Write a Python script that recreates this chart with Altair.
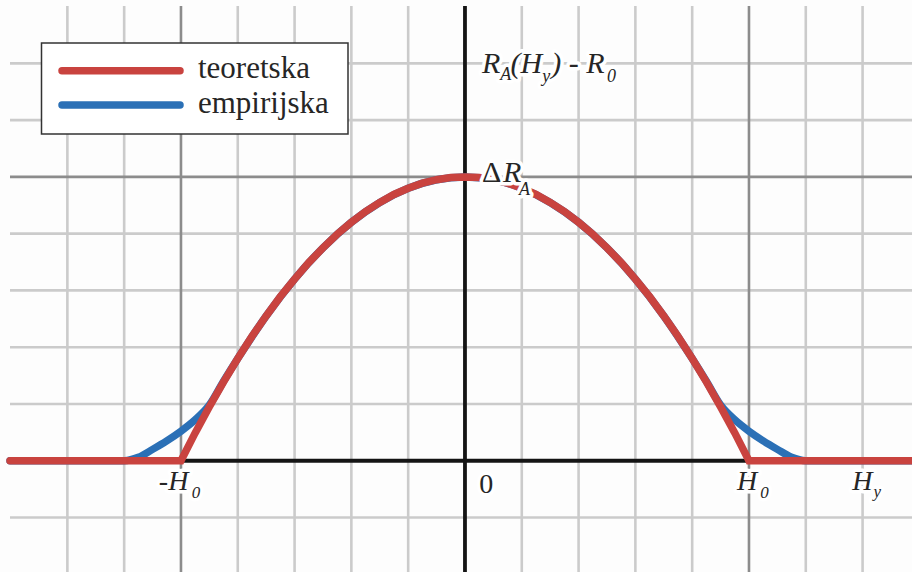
import altair as alt
import pandas as pd

# Theoretical (parabolic cap, flat outside +-H0) and empirical (smoothed) curves
red_x = [-8.01, -5.0, -4.75, -4.5, -4.25, -4.0, -3.75, -3.5, -3.25, -3.0, -2.75, -2.5,
         -2.25, -2.0, -1.75, -1.5, -1.25, -1.0, -0.75, -0.5, -0.25, 0.0, 0.25, 0.5,
         0.75, 1.0, 1.25, 1.5, 1.75, 2.0, 2.25, 2.5, 2.75, 3.0, 3.25, 3.5, 3.75, 4.0,
         4.25, 4.5, 4.75, 5.0, 7.87]
red_y = [0, 0, 0.49, 0.95, 1.39, 1.8, 2.19, 2.55, 2.89, 3.2, 3.49, 3.75,
         3.99, 4.2, 4.39, 4.55, 4.69, 4.8, 4.89, 4.95, 4.99, 5.0, 4.99, 4.95,
         4.89, 4.8, 4.69, 4.55, 4.39, 4.2, 3.99, 3.75, 3.49, 3.2, 2.89, 2.55, 2.19, 1.8,
         1.39, 0.95, 0.49, 0, 0]

blue_x = [-8.01, -6.0, -5.75, -5.5, -5.25, -5.0, -4.75, -4.5, -4.25, -4.0, -3.5, -3.0,
          -2.5, -2.0, -1.5, -1.0, -0.5, 0.0, 0.5, 1.0, 1.5, 2.0, 2.5, 3.0, 3.5, 4.0,
          4.25, 4.5, 4.75, 5.0, 5.25, 5.5, 5.75, 6.0, 7.87]
blue_y = [0, 0, 0.06, 0.2, 0.35, 0.52, 0.72, 0.98, 1.4, 1.8, 2.55, 3.2,
          3.75, 4.2, 4.55, 4.8, 4.95, 5.0, 4.95, 4.8, 4.55, 4.2, 3.75, 3.2, 2.55, 1.8,
          1.4, 0.98, 0.72, 0.52, 0.35, 0.2, 0.06, 0, 0]

# Grid positions (unit = minor grid step, H0 = 5 units, dR_A = 5 units)
minor_x = [-7, -6, -4, -3, -2, -1, 1, 2, 3, 4, 6, 7]
minor_y = [-1, 1, 2, 3, 4, 6, 7]
major_x = [-5, 5]
major_y = [5]

series_names = ["teoretska", "empirijska"]

RED = "#c9433f"
BLUE = "#2b70b6"
SERIF = "'Liberation Serif', 'Times New Roman', 'DejaVu Serif', serif"
LW = 7.5

xs = alt.Scale(domain=[-8.01, 7.87], nice=False, zero=False)
ys = alt.Scale(domain=[-1.96, 8.01], nice=False, zero=False)

def X(field="x"):
    return alt.X(f"{field}:Q", scale=xs, axis=None)

def Y(field="y"):
    return alt.Y(f"{field}:Q", scale=ys, axis=None)

grid_minor_v = alt.Chart(pd.DataFrame({"x": minor_x})).mark_rule(
    color="#cbcbcb", strokeWidth=2.6).encode(x=X())
grid_minor_h = alt.Chart(pd.DataFrame({"y": minor_y})).mark_rule(
    color="#cbcbcb", strokeWidth=2.6).encode(y=Y())
grid_major_v = alt.Chart(pd.DataFrame({"x": major_x})).mark_rule(
    color="#8c8c8c", strokeWidth=2.6).encode(x=X())
grid_major_h = alt.Chart(pd.DataFrame({"y": major_y})).mark_rule(
    color="#8c8c8c", strokeWidth=2.6).encode(y=Y())

axis_v = alt.Chart(pd.DataFrame({"x": [0]})).mark_rule(
    color="#141414", strokeWidth=3.8).encode(x=X())
axis_h = alt.Chart(pd.DataFrame({"y": [0]})).mark_rule(
    color="#141414", strokeWidth=4).encode(y=Y())

blue_line = alt.Chart(pd.DataFrame({"x": blue_x, "y": blue_y})).mark_line(
    color=BLUE, strokeWidth=LW, strokeCap="round", interpolate="monotone"
).encode(x=X(), y=Y(), order="x:Q")
red_line = alt.Chart(pd.DataFrame({"x": red_x, "y": red_y})).mark_line(
    color=RED, strokeWidth=LW, strokeCap="round"
).encode(x=X(), y=Y(), order="x:Q")

# Math labels, split into main glyphs and subscripts
labels = pd.DataFrame([
    # R_A(H_y) - R_0
    {"t": "R", "x": 0.30, "y": 6.83, "s": 30, "it": True},
    {"t": "A", "x": 0.62, "y": 6.70, "s": 18, "it": True},
    {"t": "(H", "x": 0.80, "y": 6.83, "s": 30, "it": True},
    {"t": "y", "x": 1.36, "y": 6.67, "s": 18, "it": True},
    {"t": ") - R", "x": 1.52, "y": 6.83, "s": 30, "it": True},
    {"t": "0", "x": 2.50, "y": 6.67, "s": 18, "it": True},
    # Delta R_A
    {"t": "\u0394", "x": 0.30, "y": 4.91, "s": 30, "it": False},
    {"t": "R", "x": 0.67, "y": 4.91, "s": 30, "it": True},
    {"t": "A", "x": 0.95, "y": 4.68, "s": 18, "it": True},
    # -H_0
    {"t": "-H", "x": -5.39, "y": -0.52, "s": 28, "it": True},
    {"t": "0", "x": -4.81, "y": -0.66, "s": 17, "it": True},
    # origin
    {"t": "0", "x": 0.25, "y": -0.57, "s": 28, "it": False},
    # H_0
    {"t": "H", "x": 4.79, "y": -0.52, "s": 28, "it": True},
    {"t": "0", "x": 5.20, "y": -0.66, "s": 17, "it": True},
    # H_y
    {"t": "H", "x": 6.82, "y": -0.52, "s": 28, "it": True},
    {"t": "y", "x": 7.19, "y": -0.64, "s": 17, "it": True},
])

def label_layer(df, italic, halo):
    kw = dict(align="left", baseline="alphabetic", font=SERIF,
              fontStyle="italic" if italic else "normal")
    if halo:
        kw.update(color="white", stroke="white", strokeWidth=7, strokeJoin="round")
    else:
        kw.update(color="#262626")
    return alt.Chart(df).mark_text(**kw).encode(
        x=X(), y=Y(), text="t:N", size=alt.Size("s:Q", scale=None, legend=None))

lab_it = labels[labels["it"]]
lab_up = labels[~labels["it"]]
text_layers = [
    label_layer(lab_it, True, True), label_layer(lab_up, False, True),
    label_layer(lab_it, True, False), label_layer(lab_up, False, False),
]

# Legend box with two line swatches
legend_box = alt.Chart(pd.DataFrame({"k": [0]})).mark_rect(
    fill="white", stroke="#333333", strokeWidth=1.5
).encode(x=alt.value(31.5), x2=alt.value(338), y=alt.value(37), y2=alt.value(128))
legend_red = alt.Chart(pd.DataFrame({"k": [0]})).mark_rule(
    color=RED, strokeWidth=LW, strokeCap="round"
).encode(x=alt.value(52), x2=alt.value(170), y=alt.value(64.7))
legend_blue = alt.Chart(pd.DataFrame({"k": [0]})).mark_rule(
    color=BLUE, strokeWidth=LW, strokeCap="round"
).encode(x=alt.value(52), x2=alt.value(170), y=alt.value(99))
legend_t1 = alt.Chart(pd.DataFrame({"t": [series_names[0]]})).mark_text(
    align="left", baseline="alphabetic", font=SERIF, fontSize=31, color="#262626"
).encode(x=alt.value(188), y=alt.value(72), text="t:N")
legend_t2 = alt.Chart(pd.DataFrame({"t": [series_names[1]]})).mark_text(
    align="left", baseline="alphabetic", font=SERIF, fontSize=31, color="#262626"
).encode(x=alt.value(188), y=alt.value(107), text="t:N")

chart = alt.layer(
    grid_minor_v, grid_minor_h, grid_major_v, grid_major_h,
    axis_v, axis_h, blue_line, red_line,
    *text_layers,
    legend_box, legend_red, legend_blue, legend_t1, legend_t2,
).properties(
    width=902, height=566,
    padding={"left": 10, "top": 6, "right": 0, "bottom": 0},
    autosize=alt.AutoSizeParams(type="none"),
    background="#fdfdfd",
).configure_view(stroke=None)

chart.save("out.html", embed_options={"renderer": "svg", "actions": False})
